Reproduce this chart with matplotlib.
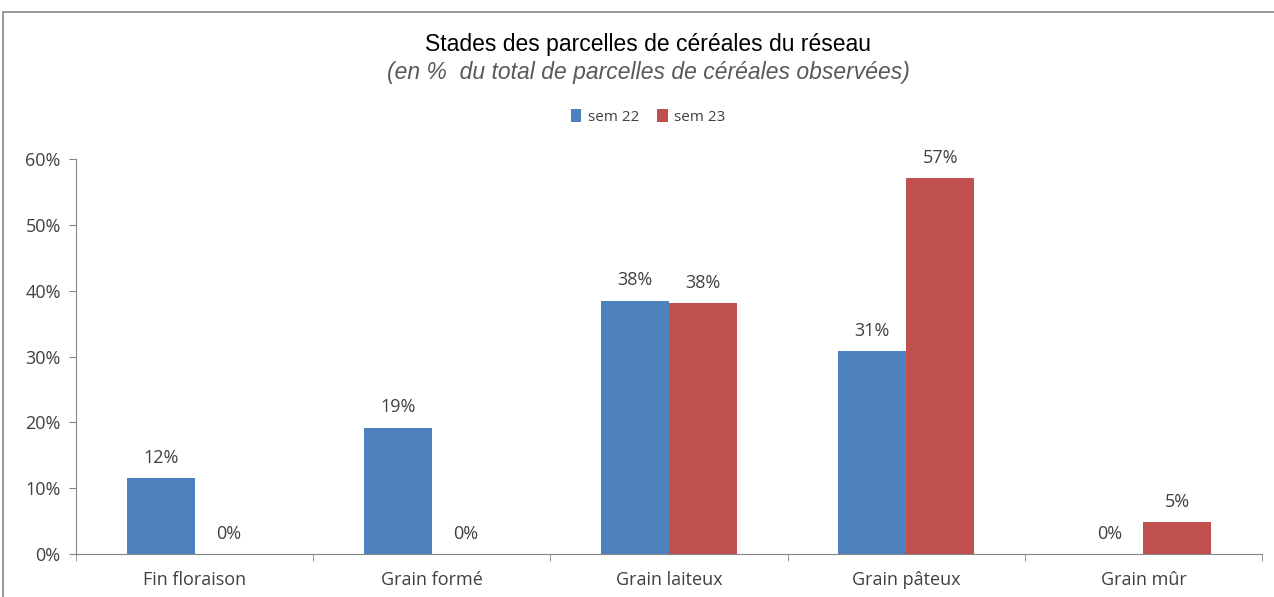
import matplotlib.pyplot as plt
from matplotlib.patches import Rectangle
import numpy as np

# data
categories = ["Fin floraison", "Grain formé", "Grain laiteux", "Grain pâteux", "Grain mûr"]
sem22 = [0.115, 0.192, 0.385, 0.308, 0.0]
sem23 = [0.0, 0.0, 0.381, 0.571, 0.048]
series_names = ["sem 22", "sem 23"]
colors = ["#4F81BD", "#C0504D"]

fig = plt.figure(figsize=(12.74, 5.97), dpi=100)
ax = fig.add_axes([76 / 1274, 1 - 554 / 597, 1186 / 1274, 395 / 597])

x = np.arange(len(categories))
w = 1 / 3.5
for vals, name, col, off in zip([sem22, sem23], series_names, colors, [-w / 2, w / 2]):
    bars = ax.bar(x + off, vals, width=w, color=col, label=name)
    for b, v in zip(bars, vals):
        ax.annotate(f"{v * 100:.0f}%", (b.get_x() + b.get_width() / 2, v),
                    xytext=(0, 14.5), textcoords="offset points",
                    ha="center", va="center", fontsize=13, color="#404040",
                    family="Open Sans")

ax.set_xlim(-0.5, len(categories) - 0.5)
ax.set_ylim(0, 0.6)
ax.set_yticks(np.arange(0, 0.61, 0.1))
ax.set_yticklabels([f"{t * 100:.0f}%" for t in np.arange(0, 0.61, 0.1)])
ax.set_xticks(x)
ax.set_xticklabels(categories)
ax.set_xticks(np.arange(-0.5, len(categories)), minor=True)
ax.tick_params(axis="x", which="major", length=0, pad=12)
ax.tick_params(axis="x", which="minor", length=5, color="#868686")
ax.tick_params(axis="y", length=5, color="#868686", pad=6)
for lab in ax.get_xticklabels() + ax.get_yticklabels():
    lab.set_family("Open Sans")
    lab.set_fontsize(13)
    lab.set_color("#404040")
for s in ["top", "right"]:
    ax.spines[s].set_visible(False)
for s in ["left", "bottom"]:
    ax.spines[s].set_color("#868686")

fig.text(648 / 1274, 1 - 44 / 597, "Stades des parcelles de céréales du réseau",
         ha="center", va="center", fontsize=16.5, family="Liberation Sans")
fig.text(648 / 1274, 1 - 72 / 597, "(en %  du total de parcelles de céréales observées)",
         ha="center", va="center", fontsize=16.5, style="italic", color="#595959",
         family="Liberation Sans")
leg = fig.legend(loc="center", bbox_to_anchor=(648 / 1274, 1 - 117 / 597), ncol=2,
                 frameon=False, handlelength=0.7, handleheight=0.9, handletextpad=0.4,
                 columnspacing=1.2, prop={"family": "Open Sans", "size": 11})
for t in leg.get_texts():
    t.set_color("#404040")

fig.patches.append(Rectangle((3 / 1274, -0.1), 1.2, 1 - 12 / 597 + 0.1,
                             transform=fig.transFigure, fill=False,
                             edgecolor="#868686", linewidth=1.2))

fig.savefig("out.png", dpi=100)
